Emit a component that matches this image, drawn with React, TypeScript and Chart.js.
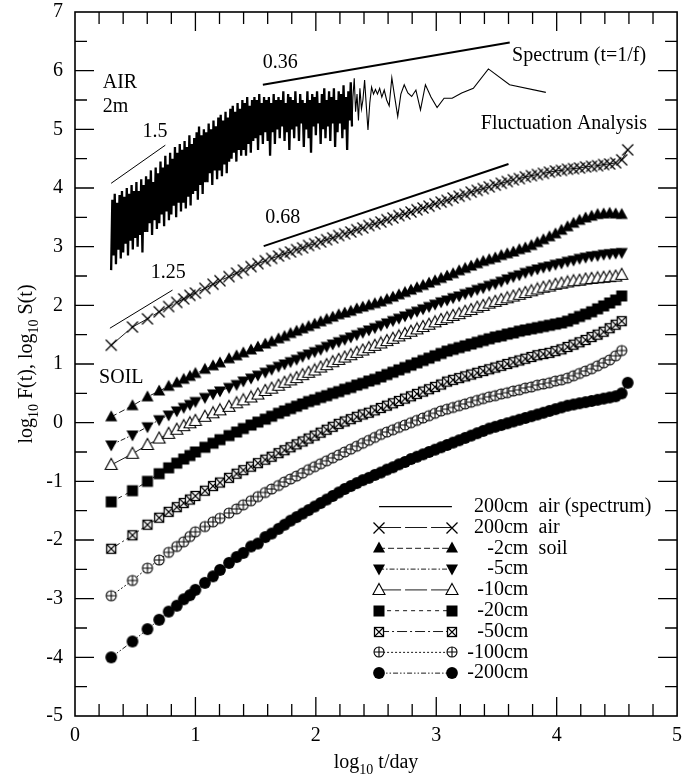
import React, { useEffect, useRef } from "react";
import { Chart, registerables } from "chart.js";

Chart.register(...registerables);

const SERIF = '"Liberation Serif", "Times New Roman", Times, serif';

// ---------- DFA box sizes (log10 t/day) ----------
const T_LOG = [
  0.301, 0.477, 0.602, 0.699, 0.778, 0.845, 0.903, 0.954, 1.0,
  1.079, 1.146, 1.204, 1.279, 1.342, 1.398, 1.462, 1.519, 1.58, 1.633, 1.69,
  1.74, 1.79, 1.84, 1.89, 1.94, 1.99, 2.04, 2.09, 2.14, 2.19,
  2.24, 2.29, 2.34, 2.39, 2.44, 2.49, 2.54, 2.59, 2.64, 2.69,
  2.74, 2.79, 2.84, 2.89, 2.94, 2.99, 3.04, 3.09, 3.14, 3.19,
  3.24, 3.29, 3.34, 3.39, 3.44, 3.49, 3.54, 3.59, 3.64, 3.69,
  3.74, 3.79, 3.84, 3.89, 3.94, 3.99, 4.04, 4.09, 4.14, 4.19,
  4.24, 4.29, 4.34, 4.39, 4.44, 4.49, 4.54, 4.59,
];

const AIR_200CM = [
  1.32, 1.63, 1.77, 1.89, 1.98, 2.05, 2.11, 2.17, 2.21,
  2.29, 2.36, 2.42, 2.49, 2.55, 2.60, 2.66, 2.71, 2.76, 2.80, 2.84,
  2.88, 2.91, 2.95, 2.98, 3.02, 3.05, 3.08, 3.12, 3.15, 3.19,
  3.22, 3.25, 3.29, 3.32, 3.36, 3.39, 3.42, 3.46, 3.49, 3.53,
  3.56, 3.59, 3.63, 3.66, 3.69, 3.73, 3.76, 3.79, 3.83, 3.86,
  3.89, 3.93, 3.96, 3.99, 4.02, 4.05, 4.08, 4.11, 4.14, 4.16,
  4.19, 4.21, 4.23, 4.25, 4.27, 4.29, 4.30, 4.32, 4.33, 4.34,
  4.36, 4.37, 4.38, 4.40, 4.41, 4.43, 4.48, 4.65,
];

const SOIL_2CM = [
  0.10, 0.29, 0.44, 0.54, 0.62, 0.68, 0.74, 0.79, 0.84,
  0.91, 0.97, 1.02, 1.09, 1.14, 1.19, 1.24, 1.29, 1.34, 1.38, 1.43,
  1.47, 1.52, 1.56, 1.60, 1.64, 1.68, 1.72, 1.76, 1.80, 1.84,
  1.87, 1.90, 1.94, 1.97, 2.00, 2.03, 2.06, 2.10, 2.14, 2.18,
  2.22, 2.26, 2.30, 2.34, 2.38, 2.42, 2.46, 2.50, 2.54, 2.59,
  2.63, 2.67, 2.71, 2.75, 2.78, 2.81, 2.85, 2.88, 2.91, 2.95,
  2.98, 3.02, 3.07, 3.12, 3.17, 3.22, 3.28, 3.34, 3.40, 3.45,
  3.49, 3.52, 3.55, 3.56, 3.57, 3.56, 3.55, null,
];

const SOIL_5CM = [
  -0.38, -0.21, -0.07, 0.05, 0.13, 0.20, 0.26, 0.31, 0.36,
  0.43, 0.49, 0.54, 0.60, 0.65, 0.71, 0.76, 0.81, 0.86, 0.91, 0.96,
  1.00, 1.04, 1.08, 1.13, 1.17, 1.21, 1.25, 1.30, 1.34, 1.38,
  1.42, 1.46, 1.50, 1.54, 1.58, 1.62, 1.66, 1.70, 1.74, 1.78,
  1.82, 1.86, 1.90, 1.94, 1.98, 2.02, 2.06, 2.09, 2.13, 2.16,
  2.20, 2.23, 2.27, 2.30, 2.34, 2.37, 2.41, 2.45, 2.49, 2.52,
  2.56, 2.59, 2.62, 2.65, 2.67, 2.70, 2.72, 2.75, 2.77, 2.80,
  2.82, 2.84, 2.85, 2.87, 2.88, 2.89, 2.90, null,
];

const SOIL_10CM = [
  -0.72, -0.53, -0.38, -0.27, -0.19, -0.12, -0.06, -0.01, 0.03,
  0.10, 0.16, 0.21, 0.27, 0.33, 0.38, 0.43, 0.48, 0.54, 0.58, 0.63,
  0.68, 0.72, 0.76, 0.81, 0.85, 0.89, 0.94, 0.98, 1.03, 1.07,
  1.11, 1.15, 1.19, 1.23, 1.27, 1.31, 1.35, 1.39, 1.43, 1.47,
  1.51, 1.55, 1.59, 1.63, 1.67, 1.71, 1.75, 1.78, 1.82, 1.85,
  1.89, 1.92, 1.96, 1.99, 2.03, 2.06, 2.09, 2.12, 2.15, 2.18,
  2.21, 2.24, 2.27, 2.30, 2.32, 2.35, 2.37, 2.39, 2.41, 2.42,
  2.44, 2.45, 2.46, 2.47, 2.48, 2.49, 2.52, null,
];

const SOIL_20CM = [
  -1.35, -1.16, -1.00, -0.87, -0.77, -0.69, -0.62, -0.56, -0.50,
  -0.42, -0.35, -0.29, -0.22, -0.16, -0.10, -0.04, 0.01, 0.06, 0.11, 0.16,
  0.20, 0.24, 0.28, 0.32, 0.36, 0.39, 0.43, 0.46, 0.50, 0.53,
  0.57, 0.60, 0.64, 0.67, 0.71, 0.74, 0.78, 0.82, 0.86, 0.90,
  0.94, 0.98, 1.02, 1.06, 1.10, 1.14, 1.18, 1.22, 1.25, 1.28,
  1.31, 1.34, 1.37, 1.40, 1.43, 1.46, 1.48, 1.51, 1.53, 1.56,
  1.58, 1.60, 1.62, 1.64, 1.66, 1.68, 1.70, 1.73, 1.77, 1.81,
  1.85, 1.89, 1.94, 1.99, 2.04, 2.09, 2.16, null,
];

const SOIL_50CM = [
  -2.15, -1.92, -1.74, -1.62, -1.52, -1.44, -1.37, -1.31, -1.25,
  -1.16, -1.08, -1.02, -0.94, -0.87, -0.81, -0.75, -0.69, -0.63, -0.58, -0.52,
  -0.47, -0.42, -0.37, -0.32, -0.27, -0.22, -0.17, -0.12, -0.07, -0.02,
  0.02, 0.06, 0.10, 0.14, 0.17, 0.21, 0.25, 0.29, 0.33, 0.37,
  0.41, 0.45, 0.49, 0.53, 0.57, 0.61, 0.65, 0.70, 0.73, 0.76,
  0.79, 0.82, 0.85, 0.88, 0.91, 0.94, 0.97, 1.00, 1.03, 1.06,
  1.09, 1.12, 1.15, 1.17, 1.19, 1.22, 1.25, 1.29, 1.33, 1.37,
  1.41, 1.46, 1.50, 1.55, 1.61, 1.67, 1.73, null,
];

const SOIL_100CM = [
  -2.95, -2.69, -2.48, -2.34, -2.21, -2.11, -2.03, -1.94, -1.86,
  -1.77, -1.69, -1.63, -1.54, -1.47, -1.40, -1.33, -1.26, -1.19, -1.13, -1.07,
  -1.01, -0.96, -0.91, -0.86, -0.80, -0.75, -0.70, -0.65, -0.60, -0.55,
  -0.50, -0.45, -0.40, -0.35, -0.30, -0.25, -0.20, -0.16, -0.12, -0.08,
  -0.04, 0.00, 0.04, 0.08, 0.12, 0.16, 0.20, 0.23, 0.26, 0.29,
  0.32, 0.35, 0.38, 0.41, 0.44, 0.46, 0.49, 0.51, 0.54, 0.56,
  0.59, 0.61, 0.64, 0.66, 0.68, 0.71, 0.73, 0.76, 0.80, 0.84,
  0.88, 0.92, 0.97, 1.02, 1.07, 1.14, 1.23, null,
];

const SOIL_200CM = [
  -4.00, -3.73, -3.52, -3.36, -3.22, -3.12, -3.01, -2.94, -2.85,
  -2.73, -2.62, -2.51, -2.39, -2.29, -2.22, -2.11, -2.06, -1.95, -1.89, -1.81,
  -1.74, -1.67, -1.61, -1.55, -1.49, -1.43, -1.37, -1.31, -1.25, -1.19,
  -1.13, -1.08, -1.03, -0.98, -0.94, -0.89, -0.85, -0.80, -0.76, -0.71,
  -0.67, -0.62, -0.58, -0.54, -0.50, -0.46, -0.42, -0.38, -0.34, -0.30,
  -0.26, -0.22, -0.18, -0.14, -0.10, -0.07, -0.04, -0.01, 0.02, 0.05,
  0.08, 0.11, 0.14, 0.17, 0.20, 0.23, 0.26, 0.29, 0.31, 0.33,
  0.35, 0.37, 0.39, 0.41, 0.43, 0.45, 0.50, 0.68,
];

// ---------- Power spectrum (t = 1/f), air 200cm ----------
const SPEC_BAND_X0 = 0.30;
const SPEC_BAND_DX = 0.01;
const SPEC_BAND_Y = [
  2.60, 3.80, 2.85, 3.90, 2.70, 3.75, 2.95, 3.88, 2.80, 3.95,
  2.90, 3.85, 3.05, 4.00, 2.85, 3.90, 3.10, 4.05, 2.95, 3.95,
  3.15, 4.10, 3.00, 3.95, 3.20, 4.15, 2.90, 4.05, 3.25, 4.20,
  3.25, 4.15, 3.40, 4.30, 3.20, 4.10, 3.45, 4.35, 3.30, 4.25,
  3.40, 4.45, 3.55, 4.35, 3.35, 4.55, 3.60, 4.40, 3.45, 4.60,
  3.55, 4.50, 3.70, 4.70, 3.50, 4.60, 3.75, 4.75, 3.60, 4.65,
  3.75, 4.80, 3.65, 4.70, 3.85, 4.90, 3.70, 4.75, 3.90, 4.85,
  3.95, 4.95, 3.80, 5.05, 4.05, 4.90, 3.90, 5.00, 4.10, 4.95,
  4.10, 5.10, 4.25, 5.00, 4.05, 5.15, 4.30, 5.05, 4.15, 5.20,
  4.30, 5.25, 4.20, 5.15, 4.40, 5.30, 4.25, 5.20, 4.45, 5.35,
  4.50, 5.40, 4.60, 5.30, 4.45, 5.45, 4.65, 5.35, 4.55, 5.50,
  4.65, 5.45, 4.55, 5.55, 4.75, 5.40, 4.60, 5.50, 4.80, 5.55,
  4.85, 5.50, 4.65, 5.60, 4.90, 5.45, 4.75, 5.55, 4.95, 5.50,
  4.80, 5.55, 4.55, 5.45, 4.95, 5.60, 4.75, 5.50, 5.00, 5.55,
  4.85, 5.50, 5.05, 5.65, 4.80, 5.45, 4.95, 5.60, 4.65, 5.55,
  5.00, 5.50, 4.85, 5.65, 5.05, 5.45, 4.80, 5.60, 5.10, 5.50,
  4.70, 5.45, 5.00, 5.65, 4.85, 5.50, 4.60, 5.60, 5.05, 5.55,
  4.90, 5.65, 5.10, 5.45, 4.75, 5.60, 5.00, 5.70, 4.85, 5.50,
  5.05, 5.65, 4.80, 5.55, 5.10, 5.70, 4.70, 5.50, 4.95, 5.65,
  5.10, 5.60, 4.85, 5.75, 5.00, 5.55, 4.65, 5.65, 5.15, 5.80,
  5.05,
];
const SPEC_TAIL_X = [
  2.308, 2.319, 2.330, 2.342, 2.354, 2.366, 2.379, 2.391, 2.405, 2.419,
  2.433, 2.448, 2.463, 2.479, 2.495, 2.512, 2.530, 2.548, 2.568, 2.588,
  2.609, 2.631, 2.655, 2.680, 2.706, 2.734, 2.764, 2.796, 2.831, 2.869,
  2.910, 2.956, 3.007, 3.065, 3.132, 3.211, 3.308, 3.433, 3.609, 3.910,
];
const SPEC_TAIL_Y = [
  5.55, 5.87, 5.30, 5.60, 5.15, 5.70, 5.35, 5.50, 5.84, 5.40,
  4.99, 5.45, 5.72, 5.60, 5.68, 5.60, 5.70, 5.55, 5.67, 5.50,
  5.40, 5.88, 5.55, 5.22, 5.60, 5.76, 5.62, 5.56, 5.67, 5.33,
  5.76, 5.55, 5.37, 5.53, 5.53, 5.62, 5.70, 6.03, 5.76, 5.63,
];

// ---------- Fitted slopes ----------
const FIT_SPEC_15_X = [0.30, 0.75];
const FIT_SPEC_15_Y = [4.08, 4.73];
const FIT_SPEC_036_X = [1.56, 3.61];
const FIT_SPEC_036_Y = [5.76, 6.48];
const FIT_DFA_125_X = [0.29, 0.81];
const FIT_DFA_125_Y = [1.61, 2.26];
const FIT_DFA_068_X = [1.567, 3.60];
const FIT_DFA_068_Y = [3.01, 4.41];

// ---------- Annotations ----------
const NOTE_TEXT = ["AIR", "2m", "1.5", "0.36", "Spectrum (t=1/f)", "Fluctuation Analysis", "0.68", "1.25", "SOIL"];
const NOTE_X = [0.23, 0.23, 0.56, 1.56, 3.63, 3.37, 1.58, 0.63, 0.2];
const NOTE_Y = [5.79, 5.38, 4.96, 6.14, 6.25, 5.09, 3.5, 2.55, 0.76];

// ---------- Legend labels ----------
const LEGEND_LEFT = ["200cm", "200cm", "-2cm", "-5cm", "-10cm", "-20cm", "-50cm", "-100cm", "-200cm"];
const LEGEND_RIGHT = ["air (spectrum)", "air", "soil", "", "", "", "", "", ""];

const X_MIN = 0, X_MAX = 5, Y_MIN = -5, Y_MAX = 7;

type Kind = "none" | "x" | "triUp" | "triDown" | "triOpen" | "sqFill" | "sqX" | "circPlus" | "circFill";

function makeMarker(kind: Kind): HTMLCanvasElement {
  const s = 16;
  const c = document.createElement("canvas");
  c.width = s;
  c.height = s;
  const g = c.getContext("2d") as CanvasRenderingContext2D;
  const m = s / 2;
  g.lineWidth = 1.1;
  g.strokeStyle = "#000";
  g.fillStyle = "#000";
  if (kind === "x") {
    g.lineWidth = 1.3;
    g.beginPath();
    g.moveTo(m - 5.5, m - 5.5); g.lineTo(m + 5.5, m + 5.5);
    g.moveTo(m + 5.5, m - 5.5); g.lineTo(m - 5.5, m + 5.5);
    g.stroke();
  } else if (kind === "triUp" || kind === "triOpen") {
    g.beginPath();
    g.moveTo(m, m - 6.5); g.lineTo(m + 6, m + 4.5); g.lineTo(m - 6, m + 4.5); g.closePath();
    if (kind === "triOpen") { g.fillStyle = "#fff"; g.fill(); g.stroke(); } else g.fill();
  } else if (kind === "triDown") {
    g.beginPath();
    g.moveTo(m, m + 6.5); g.lineTo(m + 6, m - 4.5); g.lineTo(m - 6, m - 4.5); g.closePath();
    g.fill();
  } else if (kind === "sqFill") {
    g.fillRect(m - 5.5, m - 5.5, 11, 11);
  } else if (kind === "sqX") {
    g.fillStyle = "#fff";
    g.fillRect(m - 5, m - 5, 10, 10);
    g.lineWidth = 1.3;
    g.strokeRect(m - 4.5, m - 4.5, 9, 9);
    g.lineWidth = 1.1;
    g.beginPath();
    g.moveTo(m - 4.5, m - 4.5); g.lineTo(m + 4.5, m + 4.5);
    g.moveTo(m + 4.5, m - 4.5); g.lineTo(m - 4.5, m + 4.5);
    g.stroke();
  } else if (kind === "circPlus") {
    g.beginPath();
    g.arc(m, m, 5, 0, Math.PI * 2);
    g.fillStyle = "#fff"; g.fill(); g.stroke();
    g.beginPath();
    g.moveTo(m - 5, m); g.lineTo(m + 5, m);
    g.moveTo(m, m - 5); g.lineTo(m, m + 5);
    g.stroke();
  } else if (kind === "circFill") {
    g.beginPath();
    g.arc(m, m, 5.9, 0, Math.PI * 2);
    g.fill();
  }
  return c;
}

const SERIES_DEF: { values: (number | null)[]; kind: Kind; dash: number[] }[] = [
  { values: AIR_200CM, kind: "x", dash: [22, 4] },
  { values: SOIL_2CM, kind: "triUp", dash: [6, 3] },
  { values: SOIL_5CM, kind: "triDown", dash: [5, 2, 1.5, 2] },
  { values: SOIL_10CM, kind: "triOpen", dash: [22, 4] },
  { values: SOIL_20CM, kind: "sqFill", dash: [4, 4] },
  { values: SOIL_50CM, kind: "sqX", dash: [10, 3, 2, 3] },
  { values: SOIL_100CM, kind: "circPlus", dash: [2, 2] },
  { values: SOIL_200CM, kind: "circFill", dash: [5, 2, 1.5, 2, 1.5, 2] },
];

function pts(xs: number[], ys: (number | null)[]) {
  const out: { x: number; y: number }[] = [];
  for (let i = 0; i < xs.length && i < ys.length; i++) {
    const y = ys[i];
    if (y !== null && y !== undefined) out.push({ x: xs[i], y });
  }
  return out;
}

type Part = { t: string; sub?: boolean };

function drawParts(ctx: CanvasRenderingContext2D, parts: Part[], cx: number, baseY: number) {
  const big = `20px ${SERIF}`;
  const small = `14px ${SERIF}`;
  let total = 0;
  const widths = parts.map((p) => {
    ctx.font = p.sub ? small : big;
    const w = ctx.measureText(p.t).width;
    total += w;
    return w;
  });
  let x = cx - total / 2;
  ctx.textAlign = "left";
  ctx.textBaseline = "alphabetic";
  parts.forEach((p, i) => {
    ctx.font = p.sub ? small : big;
    ctx.fillText(p.t, x, p.sub ? baseY + 6 : baseY);
    x += widths[i];
  });
}

export default function App() {
  const ref = useRef<HTMLCanvasElement | null>(null);

  useEffect(() => {
    const canvas = ref.current;
    if (!canvas) return;
    const markers: Record<string, HTMLCanvasElement> = {};
    (["x", "triUp", "triDown", "triOpen", "sqFill", "sqX", "circPlus", "circFill"] as Kind[]).forEach((k) => {
      markers[k] = makeMarker(k);
    });

    const bandX = SPEC_BAND_Y.map((_, i) => SPEC_BAND_X0 + i * SPEC_BAND_DX);
    const bandPoints = pts(bandX, SPEC_BAND_Y);
    const tailPoints = [bandPoints[bandPoints.length - 1]].concat(pts(SPEC_TAIL_X, SPEC_TAIL_Y));

    const lineDs = (data: { x: number; y: number }[], width: number) => ({
      data,
      showLine: true,
      borderColor: "#000",
      borderWidth: width,
      pointRadius: 0,
      pointHoverRadius: 0,
      tension: 0,
      fill: false,
    });

    const datasets: any[] = [];
    SERIES_DEF.forEach((s) => {
      datasets.push({
        data: pts(T_LOG, s.values),
        showLine: true,
        borderColor: "#000",
        borderWidth: 0.9,
        borderDash: s.dash,
        pointStyle: markers[s.kind],
        pointRadius: 5,
        pointHoverRadius: 5,
        backgroundColor: "#000",
        tension: 0,
        fill: false,
      });
    });
    datasets.push(lineDs(bandPoints, 2.3));
    datasets.push(lineDs(tailPoints, 1.1));
    datasets.push(lineDs(pts(FIT_SPEC_15_X, FIT_SPEC_15_Y), 1));
    datasets.push(lineDs(pts(FIT_SPEC_036_X, FIT_SPEC_036_Y), 2));
    datasets.push(lineDs(pts(FIT_DFA_125_X, FIT_DFA_125_Y), 1));
    datasets.push(lineDs(pts(FIT_DFA_068_X, FIT_DFA_068_Y), 2));

    const decor = {
      id: "decor",
      afterDatasetsDraw(chart: any) {
        const ctx: CanvasRenderingContext2D = chart.ctx;
        const a = chart.chartArea;
        const xs = chart.scales.x;
        const ys = chart.scales.y;
        const w = a.right - a.left;
        const h = a.bottom - a.top;
        ctx.save();
        ctx.strokeStyle = "#000";
        ctx.fillStyle = "#000";
        ctx.setLineDash([]);

        // frame
        ctx.lineWidth = 1.6;
        ctx.strokeRect(a.left, a.top, w, h);

        // inward ticks
        ctx.lineWidth = 1.3;
        ctx.beginPath();
        for (let i = 1; i < 25; i++) {
          const v = X_MIN + i * 0.2;
          const len = i % 5 === 0 ? 19 : 12;
          const px = xs.getPixelForValue(v);
          ctx.moveTo(px, a.bottom); ctx.lineTo(px, a.bottom - len);
          ctx.moveTo(px, a.top); ctx.lineTo(px, a.top + len);
        }
        for (let i = 1; i < 24; i++) {
          const v = Y_MIN + i * 0.5;
          const len = i % 2 === 0 ? 19 : 12;
          const py = ys.getPixelForValue(v);
          ctx.moveTo(a.left, py); ctx.lineTo(a.left + len, py);
          ctx.moveTo(a.right, py); ctx.lineTo(a.right - len, py);
        }
        ctx.stroke();

        // annotations
        ctx.font = `20px ${SERIF}`;
        ctx.textAlign = "left";
        ctx.textBaseline = "middle";
        NOTE_TEXT.forEach((t, i) => {
          ctx.fillText(t, xs.getPixelForValue(NOTE_X[i]), ys.getPixelForValue(NOTE_Y[i]));
        });

        // legend
        const lx1 = a.left + 0.505 * w;
        const lx2 = a.left + 0.626 * w;
        const tx1 = a.left + 0.753 * w;
        const tx2 = a.left + 0.770 * w;
        for (let i = 0; i < LEGEND_LEFT.length; i++) {
          const y = a.top + (0.7027 + i * 0.02955) * h;
          const def = i === 0 ? null : SERIES_DEF[i - 1];
          ctx.lineWidth = i === 0 ? 1.2 : 0.9;
          ctx.setLineDash(def ? def.dash : []);
          ctx.beginPath();
          ctx.moveTo(lx1, y);
          ctx.lineTo(lx2, y);
          ctx.stroke();
          ctx.setLineDash([]);
          if (def) {
            const mk = markers[def.kind];
            ctx.drawImage(mk, Math.round(lx1 - mk.width / 2), Math.round(y - mk.height / 2));
            ctx.drawImage(mk, Math.round(lx2 - mk.width / 2), Math.round(y - mk.height / 2));
          }
          ctx.font = `20px ${SERIF}`;
          ctx.textBaseline = "middle";
          ctx.textAlign = "right";
          ctx.fillText(LEGEND_LEFT[i], tx1, y);
          if (LEGEND_RIGHT[i]) {
            ctx.textAlign = "left";
            ctx.fillText(LEGEND_RIGHT[i], tx2, y);
          }
        }

        // axis titles
        drawParts(ctx, [{ t: "log" }, { t: "10", sub: true }, { t: " t/day" }], (a.left + a.right) / 2, 768);
        ctx.save();
        ctx.translate(32, (a.top + a.bottom) / 2);
        ctx.rotate(-Math.PI / 2);
        drawParts(
          ctx,
          [{ t: "log" }, { t: "10", sub: true }, { t: " F(t), log" }, { t: "10", sub: true }, { t: " S(t)" }],
          0,
          0
        );
        ctx.restore();
        ctx.restore();
      },
    };

    const tickFont = { family: SERIF, size: 20 };
    const chart = new Chart(canvas, {
      type: "scatter",
      data: { datasets },
      options: {
        animation: false,
        responsive: false,
        devicePixelRatio: 1,
        events: [],
        layout: { padding: { top: 12, right: 4, left: 0, bottom: 0 } },
        plugins: { legend: { display: false }, tooltip: { enabled: false } },
        scales: {
          x: {
            type: "linear",
            min: X_MIN,
            max: X_MAX,
            grid: { display: false, drawTicks: false },
            border: { display: false },
            ticks: { stepSize: 1, font: tickFont, color: "#000", padding: 8, maxRotation: 0, autoSkip: false },
            afterFit: (s: any) => {
              s.height = 64;
              s.paddingLeft = 0; s.paddingRight = 0;
            },
          },
          y: {
            type: "linear",
            min: Y_MIN,
            max: Y_MAX,
            grid: { display: false, drawTicks: false },
            border: { display: false },
            ticks: { stepSize: 1, font: tickFont, color: "#000", padding: 12, autoSkip: false },
            afterFit: (s: any) => {
              s.width = 75;
              s.paddingTop = 0; s.paddingBottom = 0;
            },
          },
        },
      } as any,
      plugins: [decor],
    });
    return () => chart.destroy();
  }, []);

  return (
    <div style={{ position: "absolute", left: 0, top: 0, width: 683, height: 780, background: "#fff" }}>
      <canvas ref={ref} width={683} height={780} style={{ display: "block" }} />
    </div>
  );
}
